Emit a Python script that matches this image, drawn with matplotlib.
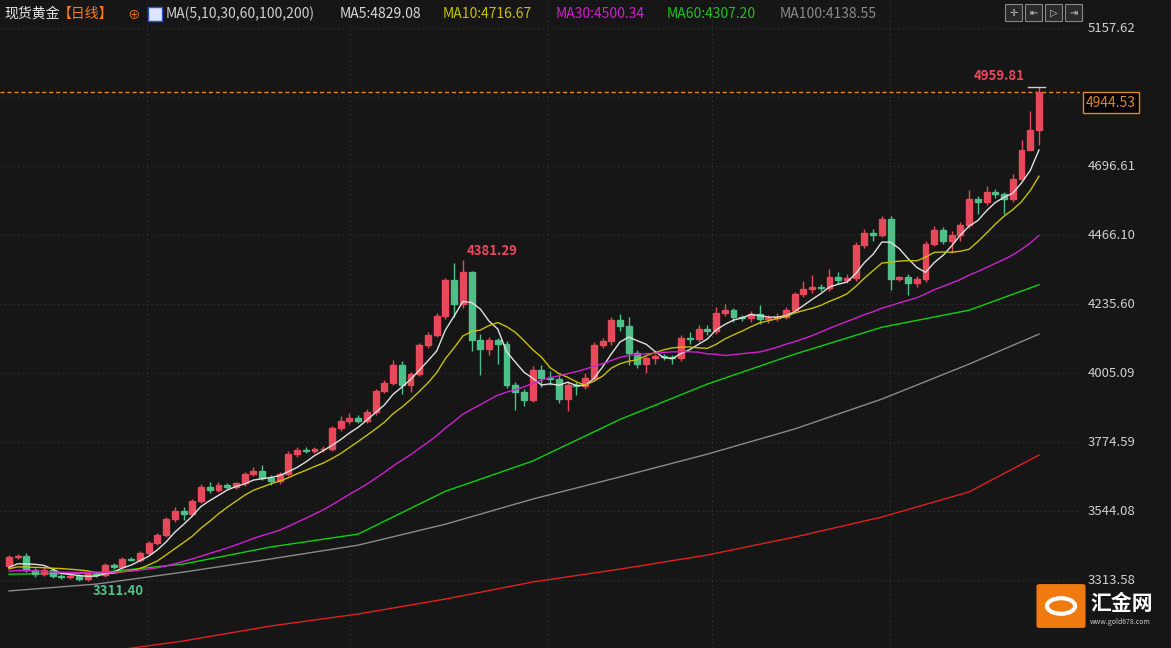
import matplotlib.pyplot as plt
import matplotlib.patches as mpatches
import numpy as np

plt.rcParams['font.family'] = ['Noto Sans CJK SC', 'DejaVu Sans']

# daily closes of spot gold (open = previous close)
pre_closes = [3320, 3345, 3370, 3395, 3385, 3360, 3340, 3325, 3310, 3330,
              3350, 3365, 3340, 3320, 3305, 3325, 3345, 3335, 3315, 3300,
              3330, 3355, 3340, 3360, 3345, 3335, 3350, 3340, 3365]
first_open = 3360
closes = [3390, 3394, 3347, 3334, 3347, 3327, 3324, 3327, 3318, 3334,   # 0
          3330, 3364, 3357, 3384, 3382, 3404, 3437, 3464, 3517, 3544,   # 10
          3534, 3578, 3624, 3614, 3631, 3624, 3636, 3668, 3678, 3654,   # 20
          3644, 3668, 3734, 3748, 3745, 3750, 3752, 3821, 3845, 3855,   # 30
          3845, 3875, 3945, 3972, 4032, 3965, 4002, 4099, 4132, 4195,   # 40
          4316, 4235, 4342, 4115, 4085, 4115, 4102, 3965, 3942, 3915,   # 50
          4015, 3988, 3985, 3918, 3965, 3962, 3988, 4099, 4112, 4182,   # 60
          4162, 4072, 4035, 4055, 4062, 4058, 4055, 4122, 4119, 4152,   # 70
          4145, 4205, 4215, 4192, 4190, 4202, 4185, 4190, 4192, 4215,   # 80
          4269, 4286, 4292, 4289, 4326, 4316, 4322, 4433, 4473, 4466,   # 90
          4519, 4319, 4326, 4306, 4319, 4436, 4483, 4446, 4466, 4499,   # 100
          4586, 4576, 4610, 4603, 4586, 4653, 4750, 4817, 4944.53]     # 110
upper_wick = [8, 5, 10, 6, 10, 8, 6, 6, 6, 8,
              8, 6, 8, 8, 8, 8, 8, 8, 6, 14,
              14, 6, 10, 16, 10, 8, 6, 6, 14, 20,
              10, 6, 10, 10, 10, 8, 8, 6, 16, 18,
              10, 10, 8, 10, 16, 14, 8, 8, 10, 10,
              8, 57, 39, 5, 20, 10, 6, 10, 10, 10,
              12, 16, 24, 12, 12, 10, 16, 10, 10, 10,
              20, 30, 10, 8, 8, 8, 8, 10, 20, 12,
              12, 20, 20, 8, 8, 10, 30, 10, 12, 10,
              8, 25, 42, 12, 25, 18, 14, 10, 14, 14,
              10, 12, 4, 10, 10, 10, 12, 10, 14, 10,
              30, 10, 20, 10, 8, 16, 34, 62, 15]
lower_wick = [8, 6, 8, 10, 8, 6, 8, 6, 8, 7,
              8, 8, 6, 8, 6, 8, 8, 8, 8, 8,
              20, 8, 8, 10, 8, 6, 8, 8, 8, 8,
              12, 10, 8, 8, 8, 6, 8, 8, 8, 10,
              8, 8, 10, 8, 8, 30, 22, 8, 10, 8,
              10, 44, 14, 37, 86, 20, 67, 10, 60, 20,
              8, 30, 20, 12, 40, 30, 10, 10, 10, 12,
              16, 40, 12, 30, 20, 10, 20, 10, 16, 10,
              12, 10, 10, 18, 12, 14, 16, 14, 12, 8,
              10, 10, 14, 10, 10, 14, 10, 8, 10, 20,
              8, 35, 8, 40, 15, 10, 8, 10, 40, 20,
              10, 40, 10, 12, 50, 10, 0, 0, 50]

# longer moving averages every 10 bars
ma_knots = [0, 10, 20, 30, 40, 50, 60, 70, 80, 90, 100, 110, 118]
ma60 = [3333, 3337, 3367, 3424, 3467, 3610, 3711, 3850, 3968, 4068, 4158, 4215, 4300]
ma100 = [3277, 3300, 3340, 3384, 3430, 3500, 3584, 3658, 3734, 3818, 3918, 4035, 4135]
ma200 = [3040, 3070, 3110, 3160, 3200, 3250, 3307, 3350, 3397, 3457, 3524, 3608, 3731]

price_ticks = [3313.58, 3544.08, 3774.59, 4005.09, 4235.60, 4466.10, 4696.61, 4927.14, 5157.62]
price_labels = ['3313.58', '3544.08', '3774.59', '4005.09', '4235.60', '4466.10', '4696.61', '', '5157.62']
month_lines = [15.8, 39.1, 61.7, 80.5, 100.9]

header = [('现货黄金', '#e6e6e6', 4), ('【日线】', '#ff7a1a', 58), ('MA(5,10,30,60,100,200)', '#d0d0d0', 166),
          ('MA5:4829.08', '#d8d8d8', 340), ('MA10:4716.67', '#c8c000', 443), ('MA30:4500.34', '#d020d0', 556),
          ('MA60:4307.20', '#20c020', 667), ('MA100:4138.55', '#8a8a8a', 780)]

BG = '#161616'
UP = '#e8495a'
DOWN = '#4fbf8a'
W, H = 1171, 648

fig = plt.figure(figsize=(W / 100, H / 100), dpi=100, facecolor=BG)
ax = fig.add_axes([0, 0, 1080 / W, 1])
ax.set_facecolor(BG)
ax.set_xlim(-1.03, 122.7)
ax.set_ylim(5251.2 - 3.3407 * H, 5251.2)
for s in ax.spines.values():
    s.set_visible(False)
ax.set_xticks([])
ax.set_yticks([])

for p in price_ticks:
    ax.axhline(p, color='#3a3a3a', lw=0.8, ls=(0, (1, 3)), zorder=0)
for m in month_lines:
    ax.axvline(m, color='#3a3a3a', lw=0.8, ls=(0, (1, 3)), zorder=0)

closes_arr = np.array(closes, dtype=float)
opens = np.concatenate([[first_open], closes_arr[:-1]])
n = len(closes_arr)
idx = np.arange(n)
highs = np.maximum(opens, closes_arr) + np.array(upper_wick)
lows = np.minimum(opens, closes_arr) - np.array(lower_wick)
lows[9] = 3311.40
highs[52] = 4381.29
highs[-1] = 4959.81

for i in range(n):
    c = UP if closes_arr[i] >= opens[i] else DOWN
    ax.vlines(i, lows[i], highs[i], color=c, lw=1, zorder=3)
    lo, hi = sorted([opens[i], closes_arr[i]])
    ax.add_patch(mpatches.Rectangle((i - 0.34, lo), 0.68, max(hi - lo, 1.5), color=c, zorder=4))

full = np.concatenate([pre_closes, closes_arr])
def sma(k):
    return np.array([full[len(pre_closes) + i - k + 1:len(pre_closes) + i + 1].mean() for i in range(n)])

ax.plot(idx, sma(5), color='#e0e0e0', lw=1, zorder=5)
ax.plot(idx, sma(10), color='#c8c000', lw=1, zorder=5)
ax.plot(idx, sma(30), color='#d020d0', lw=1, zorder=5)
ax.plot(ma_knots, ma60, color='#10d010', lw=1, zorder=2)
ax.plot(ma_knots, ma100, color='#8a8a8a', lw=1, zorder=2)
ax.plot(ma_knots, ma200, color='#e02020', lw=1, zorder=2)

# current price line and extremes
ax.axhline(closes[-1], color='#e08a20', lw=1, ls=(0, (3, 2)), zorder=1)
ax.plot([n - 2.3, n - 0.3], [4959.81, 4959.81], color='#cccccc', lw=1, zorder=6)
ax.text(n - 2.6, 4975, '4959.81', color='#e8495a', fontsize=9.5, fontweight='bold', ha='right', va='bottom')
ax.text(52.5, 4390, '4381.29', color='#e8495a', fontsize=9.5, fontweight='bold', ha='left', va='bottom')
ax.text(12.5, 3300, '3311.40', color='#4fbf8a', fontsize=9.5, fontweight='bold', ha='center', va='top')

# right price axis
for p, lab in zip(price_ticks, price_labels):
    y = 1 - (5251.2 - p) / 3.3407 / H
    fig.text(1088 / W, y, lab, color='#d0d0d0', fontsize=9.5, va='center', ha='left')
ylast = 1 - (5251.2 - closes[-1]) / 3.3407 / H - 11 / H
fig.text(1086 / W, ylast, '4944.53', color='#e08a20', fontsize=10, va='center', ha='left',
         bbox=dict(boxstyle='square,pad=0.25', fc='black', ec='#e08a20', lw=1))

# header
for txt, col, x in header:
    fig.text(x / W, 1 - 14 / H, txt, color=col, fontsize=10, va='center', ha='left')
fig.text(127 / W, 1 - 15 / H, '⊕', color='#ff7a1a', fontsize=9, va='center', ha='left')
fig.patches.append(mpatches.Rectangle((148 / W, 1 - 21 / H), 14 / W, 14 / H, transform=fig.transFigure,
                                      fc='#dde4ff', ec='#3050c0', lw=1))

# toolbar boxes
for k, sym in enumerate(['✛', '⇤', '▷', '⇥']):
    x0 = 1005 + k * 20
    fig.patches.append(mpatches.Rectangle((x0 / W, 1 - 21 / H), 17 / W, 17 / H, transform=fig.transFigure,
                                          fc='#2a2a2a', ec='#888888', lw=0.8))
    fig.text((x0 + 8.5) / W, 1 - 12.5 / H, sym, color='#cccccc', fontsize=7, ha='center', va='center',
             family=['DejaVu Sans'])

# logo
fig.patches.append(mpatches.FancyBboxPatch((1040 / W, 1 - 626 / H), 42 / W, 40 / H,
                                           boxstyle='round,pad=0.003', transform=fig.transFigure,
                                           fc='#f07a10', ec='none'))
fig.patches.append(mpatches.Circle((1061 / W, 1 - 606 / H), 0.012, transform=fig.transFigure,
                                   fc='none', ec='white', lw=3))
fig.text(1090 / W, 1 - 604 / H, '汇金网', color='white', fontsize=15, fontweight='bold', va='center', ha='left')
fig.text(1090 / W, 1 - 622 / H, 'www.gold678.com', color='#cccccc', fontsize=5, va='center', ha='left')

fig.savefig('out.png', dpi=100, facecolor=BG)
